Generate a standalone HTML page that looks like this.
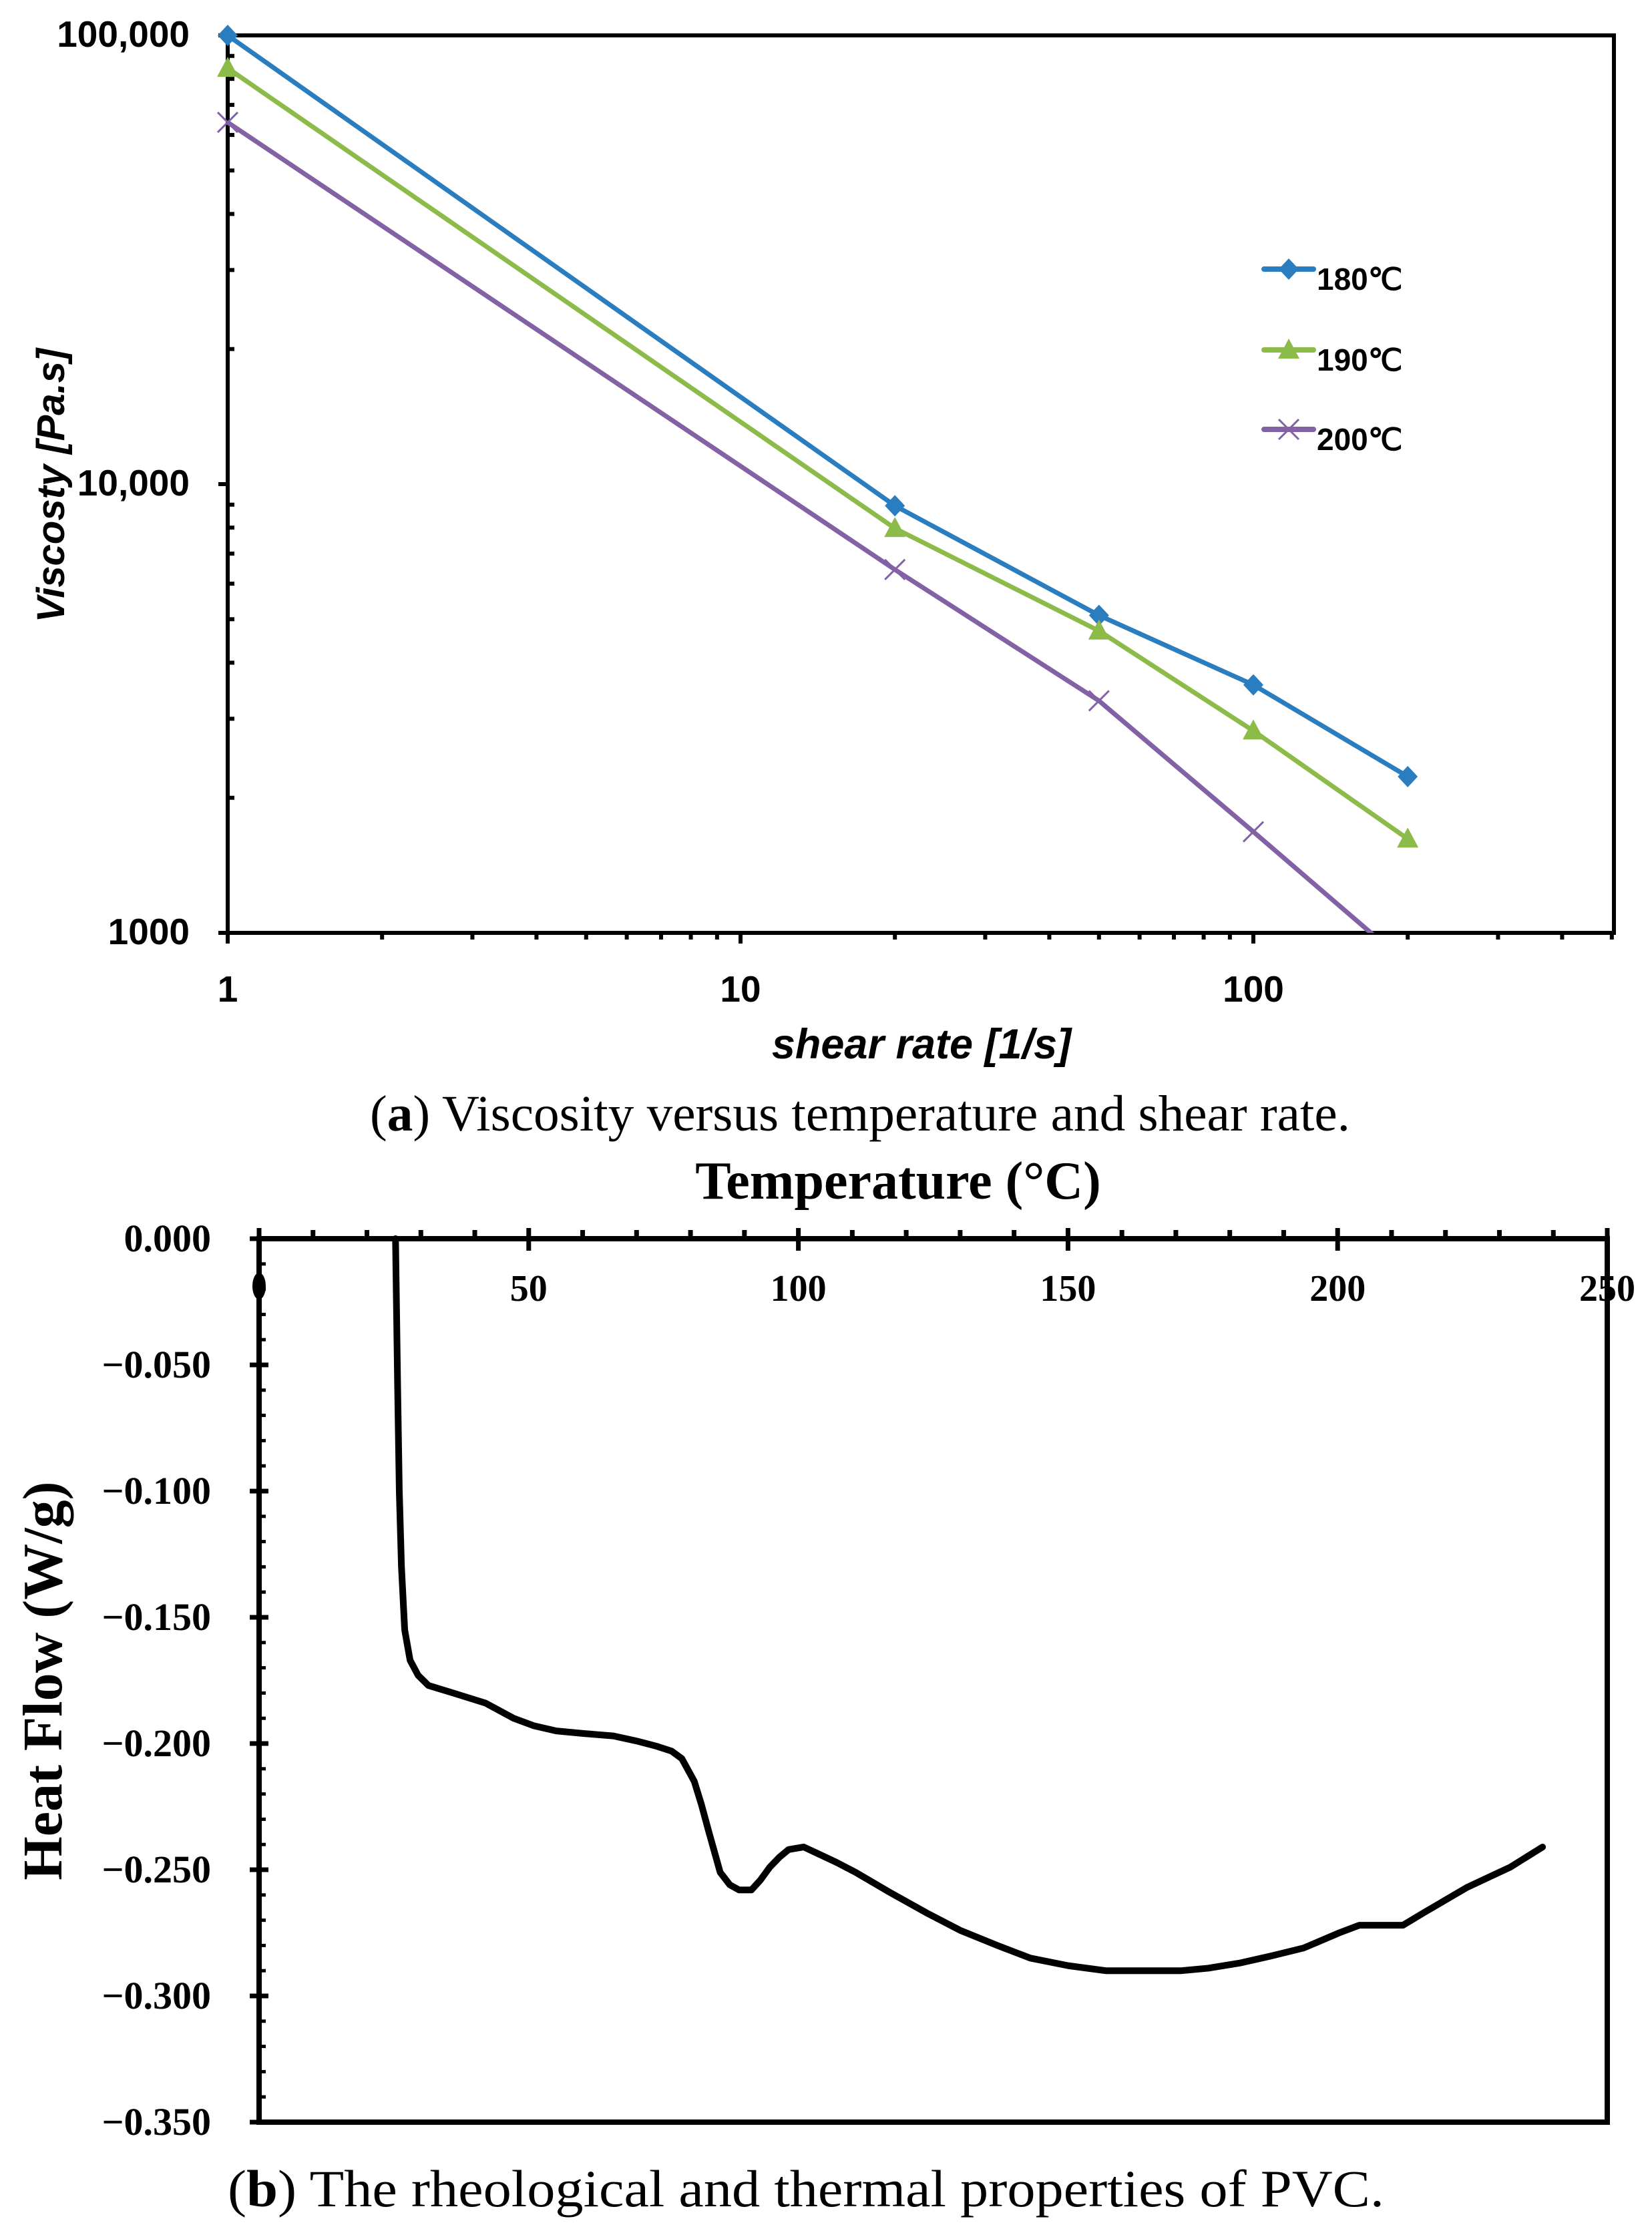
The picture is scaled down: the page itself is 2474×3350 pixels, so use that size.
<!DOCTYPE html>
<html><head><meta charset="utf-8"><style>
html,body{margin:0;padding:0;background:#fff}
svg{display:block}
.cal{font-family:"Liberation Sans Narrow","Liberation Sans",sans-serif;font-weight:bold}
.ser{font-family:"Liberation Serif",serif}
</style></head><body>
<svg id="s" width="2474" height="3350" viewBox="0 0 2474 3350" xmlns="http://www.w3.org/2000/svg">
<g id="ca"></g>
<g id="cb"></g>
<text class="ser" x="1288" y="1693" font-size="76" text-anchor="middle" textLength="1468" lengthAdjust="spacingAndGlyphs">(<tspan font-weight="bold">a</tspan>) Viscosity versus temperature and shear rate.</text>
<text class="ser" x="1207" y="3304" font-size="78" text-anchor="middle" textLength="1732" lengthAdjust="spacingAndGlyphs">(<tspan font-weight="bold">b</tspan>) The rheological and thermal properties of PVC.</text>
</svg>
<script>
// ---- Chart A data ----
const shearRates = [1, 20, 50, 100, 200];
const visc180 = [100000, 8950, 5100, 3570, 2230];
const visc190 = [84500, 7970, 4710, 2820, 1620];
const visc200 = [64000, 6450, 3290, 1680, 850];
const seriesNames = ["180℃", "190℃", "200℃"];
const yTickLabelsA = ["1000", "10,000", "100,000"];
const yTickValsA = [1000, 10000, 100000];
const xTickLabelsA = ["1", "10", "100"];
const xTickValsA = [1, 10, 100];
// ---- Chart B data ----
const temps = [25.3,25.5,25.7,26,26.4,27,28,29.5,31.4,36,42,47.2,51,55.1,60,65.7,70,73.6,76.5,78.4,80.7,82,83.4,85.5,87.3,89,91.3,93,94.7,96.5,98.2,101,104,107,110.6,117,123.7,130,136.9,143,150,157,163.3,171,176,181.8,188,193.7,197,200.3,204,208,212.1,216,220,224,228,232,235,238];
const heatFlow = [0,-0.03,-0.06,-0.10,-0.13,-0.155,-0.167,-0.173,-0.177,-0.180,-0.184,-0.190,-0.193,-0.195,-0.196,-0.197,-0.199,-0.201,-0.203,-0.206,-0.215,-0.224,-0.235,-0.251,-0.256,-0.258,-0.258,-0.254,-0.249,-0.245,-0.242,-0.241,-0.244,-0.247,-0.251,-0.259,-0.267,-0.274,-0.280,-0.285,-0.288,-0.290,-0.290,-0.290,-0.289,-0.287,-0.284,-0.281,-0.278,-0.275,-0.272,-0.272,-0.272,-0.267,-0.262,-0.257,-0.253,-0.249,-0.245,-0.241];
const xTickLabelsB = ["50","100","150","200","250"];
const xTickValsB = [50,100,150,200,250];
const yTickLabelsB = ["0.000","−0.050","−0.100","−0.150","−0.200","−0.250","−0.300","−0.350"];
const yTickValsB = [0,-0.05,-0.1,-0.15,-0.2,-0.25,-0.3,-0.35];

const NS="http://www.w3.org/2000/svg";
function mk(parent,tag,attrs,txt){const e=document.createElementNS(NS,tag);for(const k in attrs)e.setAttribute(k,attrs[k]);if(txt!==undefined)e.textContent=txt;parent.appendChild(e);return e;}

// ===== Chart A =====
const A=document.getElementById('ca');
const aL=341,aR=2417,aT=53,aB=1397;
const axA=v=>aL+Math.log10(v)*768;
const ayA=v=>aT+(5-Math.log10(v))*672;
const defs=mk(document.getElementById('s'),'defs',{});
const cp=mk(defs,'clipPath',{id:'clipA'});
mk(cp,'rect',{x:aL-40,y:aT-40,width:aR-aL+80,height:aB-aT+40});
let fr=mk(A,'rect',{x:aL,y:aT,width:aR-aL,height:aB-aT,fill:'none',stroke:'#000','stroke-width':6});


for(let d=3;d<5;d++){for(let m=1;m<10;m++){const v=m*Math.pow(10,d);const y=ayA(v);
 let t=mk(A,'line',{x1:aL-(m==1?14:0),x2:aL+(m==1?0:10),y1:y,y2:y,stroke:'#000','stroke-width':6});
 
 }}
{let t=mk(A,'line',{x1:aL-14,x2:aL,y1:ayA(100000),y2:ayA(100000),stroke:'#000','stroke-width':6});}
for(let d=0;d<3;d++){for(let m=1;m<10;m++){const v=m*Math.pow(10,d);const x=axA(v);if(x>aR)continue;
 let t=mk(A,'line',{x1:x,x2:x,y1:aB,y2:aB+(m==1?16:10),stroke:'#000','stroke-width':6});
 
 }}
yTickValsA.forEach((v,i)=>{let t=mk(A,'text',{x:284,y:ayA(v)+17,'font-size':55,'text-anchor':'end',class:'cal'},yTickLabelsA[i]);
 
 });
xTickValsA.forEach((v,i)=>{let t=mk(A,'text',{x:axA(v),y:1500,'font-size':55,'text-anchor':'middle',class:'cal'},xTickLabelsA[i]);
 
 });
let xt=mk(A,'text',{x:1380,y:1585,'font-size':63,'text-anchor':'middle',class:'cal','font-style':'italic'},'shear rate [1/s]');


let yt=mk(A,'text',{x:0,y:0,'font-size':58,'text-anchor':'middle',class:'cal','font-style':'italic',transform:'translate(96,727) rotate(-90)'},'Viscosty [Pa.s]');



const cols=['#2a7dbf','#8cbb4a','#8262a5'];
const sers=[visc180,visc190,visc200];
function marker(g,k,x,y){
 if(k==0) return mk(g,'polygon',{points:`${x},${y-16} ${x+15},${y} ${x},${y+16} ${x-15},${y}`,fill:cols[0]});
 if(k==1) return mk(g,'polygon',{points:`${x},${y-17} ${x+16},${y+13} ${x-16},${y+13}`,fill:cols[1]});
 return mk(g,'path',{d:`M${x-15},${y-15}L${x+15},${y+15}M${x+15},${y-15}L${x-15},${y+15}`,stroke:cols[2],'stroke-width':3,fill:'none'});
}
sers.forEach((s,k)=>{
 const g=mk(A,'g',{'clip-path':'url(#clipA)'});
 
 
 const pts=shearRates.map((r,i)=>axA(r)+','+ayA(s[i])).join(' ');
 let pl=mk(g,'polyline',{points:pts,fill:'none',stroke:cols[k],'stroke-width':7,'stroke-linejoin':'round'});
 
 
 shearRates.forEach((r,i)=>{if(s[i]<1000)return;const m=marker(g,k,axA(r),ayA(s[i]));
  
  });
 const ly=[403,524,643][k];
 const lg=mk(A,'g',{});
 
 
 mk(lg,'line',{x1:1893,x2:1967,y1:ly,y2:ly,stroke:cols[k],'stroke-width':8,'stroke-linecap':'round'});
 marker(lg,k,1930,ly);
 mk(lg,'text',{x:1972,y:ly+31,'font-size':46,class:'cal','font-weight':'bold'},seriesNames[k]);
});

// ===== Chart B =====
const B=document.getElementById('cb');
const bL=388,bR=2407,bT=1855,bB=3178;
const axB=t=>bL+t*8.076;
const ayB=v=>bT+(-v)*3780;
let fb=mk(B,'rect',{x:bL,y:bT,width:bR-bL,height:bB-bT,fill:'none',stroke:'#000','stroke-width':8});


for(let t=0;t<=250;t+=10){const x=axB(t);const maj=t%50==0;
 let l=mk(B,'line',{x1:x,x2:x,y1:bT-(maj?16:13),y2:bT+(maj?18:0),stroke:'#000','stroke-width':7});
 
 }
for(let i=0;i<=35;i++){const y=ayB(-i*0.01);const maj=i%5==0;
 let l=mk(B,'line',{x1:bL-(maj?14:0),x2:bL+(maj?14:10),y1:y,y2:y,stroke:'#000','stroke-width':maj?7:5});
 
 }
let blob=mk(B,'ellipse',{cx:bL,cy:1926,rx:10,ry:20,fill:'#000'});


xTickValsB.forEach((v,i)=>{let t=mk(B,'text',{x:axB(v),y:1948,'font-size':56,'text-anchor':'middle',class:'ser','font-weight':'bold'},xTickLabelsB[i]);
 
 });
yTickValsB.forEach((v,i)=>{let t=mk(B,'text',{x:316,y:ayB(v)+19,'font-size':58,'text-anchor':'end',class:'ser','font-weight':'bold'},yTickLabelsB[i]);
 
 });
let xb=mk(B,'text',{x:1345,y:1795,'font-size':80,'text-anchor':'middle',class:'ser','font-weight':'bold'},'Temperature (°C)');


let yb=mk(B,'text',{x:0,y:0,'font-size':84,'text-anchor':'middle',class:'ser','font-weight':'bold',transform:'translate(92,2517) rotate(-90)'},'Heat Flow (W/g)');


let cur=mk(B,'polyline',{points:temps.map((t,i)=>axB(t)+','+ayB(heatFlow[i])).join(' '),fill:'none',stroke:'#000','stroke-width':10,'stroke-linejoin':'round','stroke-linecap':'round'});


</script>
</body></html>
